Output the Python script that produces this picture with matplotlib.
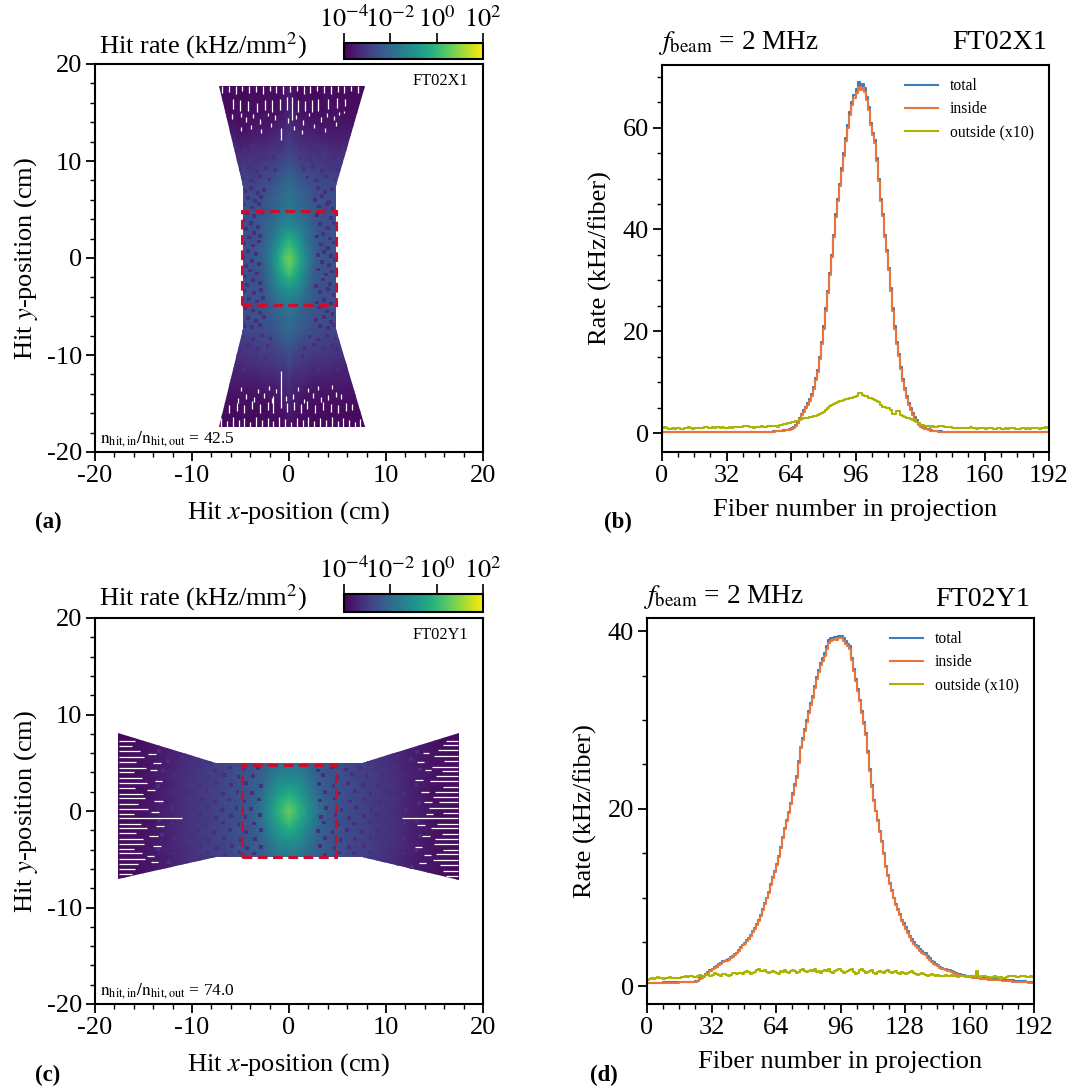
import matplotlib
matplotlib.use("Agg")
import matplotlib.pyplot as plt
import numpy as np
from matplotlib.colors import LogNorm
from matplotlib.patches import Polygon, Rectangle
from matplotlib.ticker import MultipleLocator

plt.rcParams['font.family'] = ['Liberation Serif', 'DejaVu Serif']
plt.rcParams['mathtext.fontset'] = 'stix'
plt.rcParams['axes.unicode_minus'] = False

W, H = 1082, 1090

fibre_edges = np.arange(0, 193)

# FT02X1 rates per fibre, 16 fibres per row
total_x = [.15,.15,.15,.15,.15,.15,.15,.15,.15,.15,.15,.15,.15,.15,.15,.15,
           .15,.15,.15,.15,.15,.15,.15,.15,.15,.15,.15,.15,.15,.15,.15,.15,
           .2,.2,.2,.2,.2,.2,.2,.2,.2,.2,.2,.2,.2,.2,.2,.2,
           .25,.25,.25,.25,.3,.3,.3,.35,.4,.4,.45,.5,.55,.6,.7,.8,
           1.0,1.3,1.6,2.2,3.0,3.8,4.5,5.2,6.0,6.8,7.7,9,10.8,12.5,15,18,
           21,24.5,28,31.5,35,39,43,46,49,52,55,58,60.5,63,65,66.5,
           67.5,69,68.2,68.6,67.8,66,64,61,59,57.5,54,50,46,43,39,36,
           32.5,28.5,24.5,21,18,15.5,13,10.7,8.8,7.3,5.9,4.9,4,3.2,2.5,2,
           1.6,1.3,1.1,.9,.8,.65,.5,.45,.4,.35,.35,.3,.3,.3,.25,.25,
           .25,.25,.25,.25,.25,.25,.25,.25,.25,.25,.25,.25,.25,.25,.25,.25,
           .2,.2,.2,.2,.2,.2,.2,.2,.2,.2,.2,.2,.2,.2,.2,.2,
           .2,.2,.2,.2,.2,.2,.2,.2,.2,.2,.2,.2,.2,.2,.2,.2]
inside_x = [.15,.15,.15,.15,.15,.15,.15,.15,.15,.15,.15,.15,.15,.15,.15,.15,
            .15,.15,.15,.15,.15,.15,.15,.15,.15,.15,.15,.15,.15,.15,.15,.15,
            .2,.2,.2,.2,.2,.2,.2,.2,.2,.2,.2,.2,.2,.2,.2,.2,
            .25,.25,.25,.25,.3,.3,.3,.3,.35,.35,.4,.45,.5,.55,.6,.7,
            .9,1.1,1.4,1.9,2.7,3.5,4.2,4.9,5.6,6.4,7.3,8.6,10.4,12,14.6,17.6,
            20.5,24,27.5,31,34.5,38.5,42.5,45.5,48.5,51.4,54.4,57.4,60,62.4,64.4,65.8,
            66.8,68,67.4,67.8,67,65.4,63.4,60.5,58.5,57,53.5,49.5,45.6,42.6,38.6,35.6,
            32,28,24,20.5,17.6,15.1,12.6,10.3,8.4,6.9,5.5,4.5,3.6,2.8,2.1,1.7,
            1.3,1.1,.9,.8,.6,.5,.4,.4,.35,.3,.3,.25,.25,.25,.25,.25,
            .25,.25,.25,.25,.25,.25,.2,.2,.2,.2,.2,.2,.2,.2,.2,.2,
            .2,.2,.2,.2,.2,.2,.2,.2,.2,.2,.2,.2,.2,.2,.2,.2,
            .2,.2,.2,.2,.2,.2,.2,.2,.2,.2,.2,.2,.2,.2,.2,.2]
outside_x = [1.0,1.2,1.0,.9,.9,1.1,.9,1.0,1.0,.9,.9,1.1,1.0,1.2,1.0,.9,
             1.0,1.0,1.1,1.0,1.1,1.2,1.3,1.1,1.1,1.2,1.1,1.3,1.2,1.1,1.2,1.0,
             1.1,1.2,1.1,1.2,1.2,1.3,1.3,1.2,1.4,1.5,1.4,1.3,1.2,1.1,1.2,1.3,
             1.3,1.4,1.3,1.3,1.4,1.5,1.4,1.5,1.4,1.3,1.6,1.7,1.8,1.8,1.9,2.0,
             2.1,2.2,2.3,2.4,2.6,2.8,2.9,3.0,3.0,3.1,3.2,3.3,3.4,3.6,3.8,4.0,
             4.2,4.6,5.0,5.4,5.6,5.7,5.9,6.1,6.4,6.4,6.6,6.8,6.8,6.9,7.0,7.1,
             7.2,7.9,7.9,7.5,7.3,7.2,7.0,6.9,6.7,6.5,6.4,6.1,5.6,5.2,5.1,5.0,
             4.9,4.6,3.8,3.7,4.3,4.4,3.5,3.3,3.1,3.0,2.9,2.7,2.5,2.3,2.1,1.9,
             1.7,1.6,1.5,1.4,1.4,1.3,1.4,1.3,1.3,1.4,1.5,1.4,1.3,1.3,1.2,1.2,
             1.1,1.1,1.1,1.0,1.1,1.0,1.1,1.0,1.1,1.2,1.0,1.0,.9,1.0,1.1,1.0,
             .9,1.0,1.1,1.0,.9,.9,1.0,1.1,.9,.9,1.0,.9,1.0,1.1,1.0,.9,
             .9,.9,1.0,1.0,.9,1.0,.9,1.1,1.0,1.0,1.1,.9,1.0,1.1,1.2,1.1]

# FT02Y1 rates per fibre
total_y = [.4,.4,.4,.4,.4,.4,.4,.4,.45,.45,.45,.45,.45,.45,.45,.45,
           .5,.5,.5,.5,.5,.5,.5,.5,.55,.6,.9,1.0,1.2,1.4,1.6,1.8,
           2,2.2,2.3,2.5,2.6,2.8,2.9,3,3.1,3.3,3.4,3.6,3.8,4.1,4.4,4.7,
           4.9,5.2,5.4,5.8,6.2,6.6,7,7.5,8,8.7,9.4,10,10.6,11.5,12.3,13,
           13.8,14.7,15.7,16.8,17.8,18.7,19.6,20.7,21.8,22.8,23.7,25.4,27,28,29,30,
           31,31.9,32.7,33.8,34.8,35.6,36.4,37,37.5,38.3,39,39.2,39.3,39.4,39.4,39.5,
           39.5,39.2,38.9,38.6,38.3,37,35.7,34.6,33.5,32.3,31,29.8,28.5,26.5,24.5,22.7,
           21,19.8,18.7,17.5,16.4,15,13.5,12.5,11.6,10.8,10,9.3,8.7,8.1,7.5,7.1,
           6.7,6.2,5.7,5.3,5,4.7,4.5,4.2,4,3.8,3.7,3.4,3.2,2.9,2.7,2.5,
           2.4,2.2,2.1,2,1.9,1.85,1.8,1.7,1.6,1.5,1.4,1.35,1.3,1.25,1.2,1.15,
           1.1,1.05,1,1,1,.95,.95,.9,.9,.85,.85,.8,.8,.8,.75,.75,
           .7,.7,.7,.7,.65,.65,.6,.6,.6,.6,.55,.55,.5,.5,.45,.45]
inside_y = [.35,.35,.35,.35,.35,.35,.35,.35,.4,.4,.4,.4,.4,.4,.4,.4,
            .45,.45,.45,.45,.45,.45,.45,.45,.5,.55,.8,.9,1.1,1.3,1.5,1.7,
            1.9,2.1,2.2,2.4,2.5,2.7,2.8,2.9,3,3.2,3.3,3.5,3.7,4,4.3,4.6,
            4.8,5.1,5.3,5.7,6.1,6.5,6.9,7.4,7.9,8.6,9.3,9.9,10.5,11.4,12.2,12.9,
            13.7,14.6,15.6,16.7,17.7,18.6,19.5,20.5,21.6,22.6,23.5,25.2,26.8,27.8,28.8,29.8,
            30.8,31.7,32.5,33.6,34.6,35.4,36.2,36.7,37.2,38,38.7,38.9,39,39.1,39,39.2,
            39.2,38.9,38.6,38.3,38,36.8,35.5,34.4,33.3,32.1,30.8,29.6,28.3,26.3,24.3,22.5,
            20.9,19.7,18.6,17.4,16.3,14.9,13.4,12.4,11.5,10.7,9.9,9.2,8.6,8,7.3,6.9,
            6.5,6,5.5,5.1,4.8,4.5,4.3,4,3.8,3.6,3.5,3.2,3,2.7,2.5,2.4,
            2.3,2.1,2,1.9,1.8,1.75,1.7,1.6,1.5,1.4,1.3,1.25,1.2,1.15,1.1,1.05,
            1,.95,.95,.9,.9,.85,.85,.8,.8,.75,.75,.7,.7,.65,.65,.65,
            .6,.6,.6,.55,.55,.5,.5,.5,.5,.45,.45,.45,.45,.4,.4,.4]
outside_y = [.7,.8,.9,.8,.9,1.0,.9,.9,.8,.9,.9,1.0,.9,.9,.9,.9,
             .9,1.0,1.0,1.1,1.0,1.2,1.1,1.0,1.0,1.1,1.3,1.2,1.0,1.3,1.4,1.2,
             1.3,1.5,1.4,1.3,1.2,1.4,1.4,1.3,1.2,1.3,1.5,1.5,1.4,1.5,1.5,1.4,
             1.6,1.7,1.6,1.4,1.5,1.6,1.8,1.9,1.7,1.7,1.8,1.6,1.5,1.6,1.7,1.6,
             1.5,1.4,1.7,1.6,1.8,1.6,1.5,1.7,1.8,1.7,1.5,1.6,1.8,1.9,1.7,1.6,
             1.7,1.8,1.7,1.9,1.6,1.7,1.5,1.7,1.8,1.7,1.9,1.6,1.5,1.7,1.8,2.0,
             1.7,1.5,1.6,1.7,1.8,1.9,1.6,1.4,1.5,1.8,1.9,1.7,1.5,1.6,1.7,1.8,
             1.5,1.4,1.6,1.7,1.6,1.5,1.7,1.8,1.6,1.5,1.6,1.7,1.5,1.4,1.6,1.5,
             1.4,1.5,1.6,1.7,1.5,1.4,1.3,1.4,1.5,1.4,1.3,1.2,1.3,1.4,1.3,1.2,
             1.3,1.2,1.1,1.2,1.3,1.2,1.1,1.3,1.2,1.1,1.0,1.2,1.1,1.1,1.0,1.1,
             1.0,1.1,1.2,1.7,1.1,1.0,1.2,1.1,1.0,1.0,.9,1.0,1.1,1.0,.9,1.0,
             .9,.9,1.0,1.1,1.2,1.2,1.1,1.0,1.0,1.1,1.2,1.1,1.0,1.0,1.1,1.0]

map_x_x = [-8,-6,-4.8,-3.6,-2.6,-1.8,-1.1,-.5,0,.5,1.1,1.8,2.6,3.6,4.8,6,8]
map_x_y = [17.8,15,13,11,9,7.5,6,5,4,3,2,1,0,-1,-2,-3,-4,-5,-6,-7.5,-9,-11,-13,-15,-17.6]
map_x = [
    [-3.9,-3.8,-3.9,-3.8,-3.9,-3.8,-3.9,-3.7,-3.6,-3.8,-3.9,-3.8,-3.9,-3.8,-3.9,-3.8,-3.9],
    [-3.8,-3.8,-3.8,-3.8,-3.7,-3.8,-3.7,-3.6,-3.4,-3.6,-3.7,-3.7,-3.8,-3.8,-3.7,-3.8,-3.8],
    [-3.7,-3.6,-3.7,-3.6,-3.6,-3.5,-3.4,-3.3,-3.1,-3.3,-3.4,-3.5,-3.5,-3.6,-3.6,-3.6,-3.7],
    [-3.4,-3.4,-3.3,-3.2,-3.2,-3.1,-3.0,-2.9,-2.8,-2.9,-3.0,-3.1,-3.2,-3.1,-3.3,-3.2,-3.4],
    [-3.1,-3.0,-2.9,-3.0,-2.8,-2.8,-2.6,-2.4,-2.3,-2.4,-2.6,-2.8,-2.8,-2.9,-3.0,-3.0,-3.1],
    [-2.8,-2.8,-2.7,-2.8,-2.6,-2.5,-2.2,-2.0,-1.9,-2.0,-2.2,-2.4,-2.6,-2.7,-2.6,-2.8,-2.8],
    [-2.7,-2.7,-2.5,-2.6,-2.4,-2.2,-2.0,-1.8,-1.7,-1.8,-2.0,-2.2,-2.5,-2.5,-2.6,-2.7,-2.7],
    [-2.6,-2.6,-2.5,-2.4,-2.5,-2.3,-2.0,-1.7,-1.6,-1.7,-2.0,-2.1,-2.3,-2.6,-2.5,-2.6,-2.6],
    [-2.6,-2.6,-2.6,-2.4,-2.3,-2.0,-1.7,-1.5,-1.4,-1.5,-1.7,-2.0,-2.4,-2.5,-2.4,-2.6,-2.6],
    [-2.5,-2.5,-2.5,-2.6,-2.2,-1.9,-1.4,-1.1,-1.0,-1.1,-1.4,-1.8,-2.3,-2.6,-2.5,-2.5,-2.5],
    [-2.6,-2.6,-2.4,-2.6,-2.2,-1.7,-1.1,-.6,-.3,-.6,-1.0,-1.7,-2.2,-2.5,-2.5,-2.6,-2.6],
    [-2.5,-2.5,-2.5,-2.4,-2.1,-1.5,-.8,-.1,.2,-.1,-.7,-1.5,-2.1,-2.6,-2.4,-2.5,-2.5],
    [-2.6,-2.6,-2.6,-2.4,-2.1,-1.3,-.4,.3,.7,.3,-.4,-1.3,-2.1,-2.4,-2.6,-2.6,-2.6],
    [-2.5,-2.5,-2.4,-2.5,-2.2,-1.4,-.6,.1,.5,.1,-.6,-1.4,-2.2,-2.5,-2.4,-2.5,-2.5],
    [-2.6,-2.6,-2.5,-2.6,-2.3,-1.6,-.9,-.4,-.1,-.4,-.9,-1.6,-2.3,-2.4,-2.5,-2.6,-2.6],
    [-2.6,-2.6,-2.4,-2.5,-2.4,-1.8,-1.2,-.9,-.7,-.9,-1.2,-1.8,-2.4,-2.6,-2.5,-2.6,-2.6],
    [-2.6,-2.6,-2.6,-2.4,-2.4,-2.0,-1.6,-1.4,-1.3,-1.4,-1.6,-2.0,-2.3,-2.5,-2.5,-2.6,-2.6],
    [-2.6,-2.6,-2.5,-2.6,-2.4,-2.3,-1.9,-1.7,-1.6,-1.7,-1.9,-2.3,-2.4,-2.6,-2.4,-2.6,-2.6],
    [-2.7,-2.7,-2.6,-2.5,-2.4,-2.3,-2.1,-1.9,-1.8,-1.9,-2.1,-2.3,-2.5,-2.5,-2.6,-2.7,-2.7],
    [-2.8,-2.8,-2.7,-2.7,-2.6,-2.5,-2.3,-2.1,-2.0,-2.1,-2.3,-2.5,-2.6,-2.7,-2.7,-2.8,-2.8],
    [-3.1,-3.0,-3.0,-2.9,-2.8,-2.8,-2.6,-2.5,-2.3,-2.5,-2.7,-2.8,-2.8,-2.9,-3.0,-3.0,-3.1],
    [-3.4,-3.4,-3.3,-3.2,-3.1,-3.1,-3.0,-3.0,-2.8,-3.0,-3.0,-3.1,-3.2,-3.2,-3.3,-3.4,-3.4],
    [-3.7,-3.6,-3.6,-3.6,-3.5,-3.5,-3.4,-3.4,-3.2,-3.4,-3.4,-3.5,-3.6,-3.6,-3.6,-3.6,-3.7],
    [-3.8,-3.8,-3.8,-3.8,-3.8,-3.8,-3.7,-3.6,-3.5,-3.6,-3.7,-3.8,-3.8,-3.8,-3.8,-3.8,-3.8],
    [-3.9,-3.9,-3.8,-3.9,-3.9,-3.8,-3.9,-3.8,-3.7,-3.8,-3.9,-3.8,-3.9,-3.9,-3.8,-3.9,-3.9],
]
outline_x = [(-7.2,17.7),(7.8,17.7),(4.85,7.4),(4.85,-7.3),(7.8,-17.4),(-7.2,-17.4),(-4.7,-7.3),(-4.7,7.4)]

map_y_x = [-18,-15,-12.5,-10.5,-8.5,-7,-5.5,-4,-3,-2,-1,0,1,2,3,4,5.5,7,8.5,10.5,12.5,15,18]
map_y_y = [8.2,6,4.8,3.8,2.8,1.8,.9,0,-.9,-1.8,-2.8,-3.8,-4.8,-6,-7.4]
map_y = [
    [-3.9,-3.8,-3.6,-3.4,-3.3,-3.1,-3.0,-2.9,-2.8,-2.7,-2.6,-2.5,-2.6,-2.7,-2.8,-2.9,-3.0,-3.1,-3.3,-3.4,-3.6,-3.8,-3.9],
    [-3.9,-3.7,-3.5,-3.3,-3.1,-2.9,-2.8,-2.5,-2.4,-2.2,-1.9,-1.8,-1.9,-2.2,-2.4,-2.5,-2.8,-2.9,-3.1,-3.3,-3.5,-3.7,-3.9],
    [-3.8,-3.7,-3.5,-3.2,-3.0,-2.8,-2.6,-2.5,-2.3,-2.0,-1.7,-1.6,-1.7,-2.0,-2.3,-2.4,-2.6,-2.8,-3.0,-3.2,-3.5,-3.7,-3.8],
    [-3.9,-3.7,-3.4,-3.2,-2.9,-2.9,-2.5,-2.4,-2.2,-1.8,-1.4,-1.3,-1.4,-1.8,-2.2,-2.5,-2.5,-2.9,-2.9,-3.2,-3.4,-3.7,-3.9],
    [-3.8,-3.7,-3.5,-3.1,-3.0,-2.7,-2.6,-2.3,-2.1,-1.6,-1.0,-.9,-1.0,-1.6,-2.1,-2.3,-2.6,-2.7,-3.0,-3.1,-3.5,-3.7,-3.8],
    [-3.9,-3.8,-3.4,-3.2,-2.9,-2.8,-2.5,-2.4,-2.0,-1.3,-.7,-.3,-.7,-1.3,-2.0,-2.4,-2.5,-2.8,-2.9,-3.2,-3.4,-3.8,-3.9],
    [-3.8,-3.7,-3.5,-3.1,-3.0,-2.7,-2.6,-2.3,-1.8,-1.1,-.3,.2,-.3,-1.1,-1.8,-2.3,-2.6,-2.7,-3.0,-3.1,-3.5,-3.7,-3.8],
    [-3.9,-3.7,-3.4,-3.2,-2.9,-2.8,-2.5,-2.3,-1.8,-1.0,-.1,.6,-.1,-1.0,-1.8,-2.3,-2.5,-2.8,-2.9,-3.2,-3.4,-3.7,-3.9],
    [-3.8,-3.8,-3.5,-3.1,-3.0,-2.7,-2.6,-2.3,-1.9,-1.1,-.3,.3,-.3,-1.1,-1.9,-2.4,-2.6,-2.7,-3.0,-3.1,-3.5,-3.8,-3.8],
    [-3.9,-3.7,-3.4,-3.2,-2.9,-2.8,-2.5,-2.4,-2.0,-1.3,-.7,-.2,-.7,-1.3,-2.0,-2.3,-2.5,-2.8,-2.9,-3.2,-3.4,-3.7,-3.9],
    [-3.8,-3.7,-3.5,-3.1,-3.0,-2.7,-2.6,-2.4,-2.1,-1.6,-1.0,-.8,-1.0,-1.6,-2.1,-2.4,-2.6,-2.7,-3.0,-3.1,-3.5,-3.7,-3.8],
    [-3.9,-3.7,-3.4,-3.2,-2.9,-2.9,-2.5,-2.3,-2.2,-1.8,-1.4,-1.3,-1.4,-1.8,-2.2,-2.4,-2.5,-2.9,-2.9,-3.2,-3.4,-3.7,-3.9],
    [-3.8,-3.7,-3.5,-3.2,-3.0,-2.8,-2.6,-2.5,-2.3,-2.0,-1.7,-1.6,-1.7,-2.0,-2.3,-2.4,-2.6,-2.8,-3.0,-3.2,-3.5,-3.7,-3.8],
    [-3.9,-3.7,-3.5,-3.3,-3.1,-2.9,-2.8,-2.5,-2.4,-2.2,-1.9,-1.8,-1.9,-2.2,-2.4,-2.5,-2.8,-2.9,-3.1,-3.3,-3.5,-3.7,-3.9],
    [-3.9,-3.8,-3.6,-3.4,-3.3,-3.1,-3.0,-2.9,-2.8,-2.7,-2.6,-2.5,-2.6,-2.7,-2.8,-2.9,-3.0,-3.1,-3.3,-3.4,-3.6,-3.8,-3.9],
]
outline_y = [(-17.6,8.1),(-7.5,4.95),(7.5,4.95),(17.5,8.1),(17.5,-7.2),(7.5,-4.75),(-7.5,-4.75),(-17.6,-7.0)]

# darker low-rate cells in the speckled part of the maps
specks_x = [(-4.5,6.9),(-3.9,7.2),(-3.2,6.7),(-2.6,7.0),(3.0,7.2),(3.7,6.8),(4.4,7.1),(-4.2,6.2),(-3.5,5.9),(-2.9,6.3),(2.7,6.0),(3.4,6.4),(4.1,5.8),
            (-4.6,5.5),(-3.8,5.2),(-3.1,5.6),(3.1,5.3),(3.9,5.6),(4.5,5.1),(-4.3,4.6),(-3.6,4.3),(-2.8,4.7),(-4.7,3.9),(2.9,4.4),(3.6,4.8),(4.3,4.1),
            (-3.9,3.6),(-3.2,3.2),(-4.4,3.0),(3.2,3.5),(4.0,3.1),(4.6,3.6),(-3.6,2.6),(-4.1,2.1),(-3.0,2.3),(3.5,2.5),(4.2,2.0),(2.9,2.2),
            (-4.6,1.5),(-3.7,1.3),(-3.1,1.7),(3.3,1.4),(4.0,1.0),(4.6,1.6),(-4.2,.7),(-3.4,.4),(-4.7,.1),(3.6,.6),(4.3,.2),(3.0,.3),
            (-3.8,-.3),(-3.1,-.6),(-4.4,-.8),(3.4,-.4),(4.1,-.7),(4.7,-.2),(-4.0,-1.3),(-3.3,-1.6),(-4.6,-1.9),(3.0,-1.2),(3.8,-1.7),(4.4,-1.4),
            (-3.7,-2.3),(-3.0,-2.6),(-4.3,-2.8),(3.5,-2.2),(4.2,-2.7),(2.8,-2.9),(-4.6,-3.4),(-3.6,-3.6),(-2.9,-3.3),(3.2,-3.5),(4.0,-3.2),(4.6,-3.8),
            (-4.1,-4.2),(-3.3,-4.5),(-2.7,-4.1),(3.6,-4.3),(4.3,-4.7),(2.9,-4.6),(-4.5,-5.2),(-3.7,-5.4),(-3.0,-5.7),(3.1,-5.1),(3.9,-5.5),(4.5,-5.8),
            (-4.2,-6.2),(-3.4,-6.5),(-2.6,-6.1),(2.8,-6.4),(3.6,-6.1),(4.3,-6.6),(-4.6,-7.0),(-3.8,-7.1),(-3.0,-6.9),(3.2,-7.0),(4.0,-7.2),(4.6,-6.9),
            (-4.8,8.2),(-3.9,8.0),(-3.0,8.4),(-2.0,8.1),(1.9,8.3),(2.8,8.0),(3.8,8.4),(4.7,8.1),(-5.0,9.2),(-4.1,9.4),(-3.3,9.0),(-2.4,9.3),(-1.4,9.1),
            (1.5,9.2),(2.5,9.4),(3.4,9.0),(4.3,9.3),(5.0,9.1),(-5.3,10.3),(-4.4,10.1),(-3.5,10.5),(-2.6,10.2),(-1.6,10.4),(1.2,10.3),(2.2,10.1),(3.1,10.5),
            (4.0,10.2),(5.0,10.4),(-5.5,11.4),(-4.6,11.2),(-3.7,11.6),(-2.8,11.3),(-1.8,11.5),(-.9,11.2),(1.0,11.4),(1.9,11.2),(2.9,11.6),(3.8,11.3),(4.8,11.5),(5.5,11.2),
            (-4.7,-8.1),(-3.7,-8.4),(-2.8,-8.0),(-1.9,-8.3),(2.1,-8.1),(3.0,-8.4),(3.9,-8.0),(4.8,-8.3),(-5.1,-9.3),(-4.2,-9.0),(-3.2,-9.4),(-2.2,-9.1),
            (1.6,-9.3),(2.6,-9.0),(3.5,-9.4),(4.4,-9.1),(5.0,-9.3),(-5.4,-10.2),(-4.5,-10.5),(-3.4,-10.2),(-2.5,-10.4),(1.4,-10.2),(2.4,-10.5),(3.3,-10.2),
            (4.2,-10.4),(5.2,-10.1),(-5.6,-11.3),(-4.7,-11.5),(-3.8,-11.2),(-2.7,-11.6),(-1.6,-11.3),(1.2,-11.5),(2.2,-11.2),(3.1,-11.6),(4.0,-11.3),(5.0,-11.5)]
specks_y = [(-11,4.4),(-9.2,4.5),(-7.6,4.2),(-6.1,4.5),(-4.7,4.3),(-3.2,4.4),(3.0,4.2),(4.4,4.5),(5.9,4.3),(7.3,4.5),(9.0,4.4),(10.8,4.6),
            (-11.8,3.6),(-10,3.8),(-8.3,3.5),(-6.7,3.7),(-5.2,3.5),(-3.7,3.6),(3.5,3.7),(5.0,3.5),(6.5,3.8),(8.0,3.6),(9.6,3.7),(11.4,3.5),
            (-11,2.8),(-9.3,2.6),(-7.5,2.9),(-6.0,2.7),(-4.4,2.9),(-2.9,2.6),(3.1,2.8),(4.6,2.6),(6.1,2.9),(7.6,2.7),(9.2,2.6),(11,2.9),
            (-11.9,2.0),(-10.2,1.9),(-8.5,2.1),(-6.8,1.8),(-5.3,2.0),(-3.8,1.9),(3.7,2.0),(5.2,1.8),(6.8,2.1),(8.4,1.9),(10,2.0),(11.8,1.8),
            (-11,1.1),(-9.0,1.3),(-7.6,1.0),(-6.2,1.2),(-4.6,1.0),(-3.1,1.2),(3.2,1.1),(4.7,1.3),(6.3,1.0),(7.8,1.2),(9.4,1.0),(11.2,1.3),
            (-12,.3),(-10.1,.2),(-8.4,.4),(-6.9,.1),(-5.4,.3),(-3.9,.2),(3.8,.3),(5.4,.1),(6.9,.4),(8.5,.2),(10.2,.3),(12,.1),
            (-11,-.5),(-9.2,-.4),(-7.5,-.7),(-6.0,-.5),(-4.5,-.6),(-3.0,-.4),(3.3,-.6),(4.8,-.4),(6.2,-.7),(7.7,-.5),(9.1,-.4),(11,-.6),
            (-12,-1.3),(-10.3,-1.2),(-8.6,-1.4),(-6.8,-1.2),(-5.2,-1.4),(-3.6,-1.3),(3.6,-1.2),(5.1,-1.4),(6.7,-1.3),(8.3,-1.2),(10,-1.4),(11.9,-1.3),
            (-11.1,-2.1),(-9.4,-2.0),(-7.7,-2.2),(-6.1,-2.0),(-4.4,-2.2),(-2.9,-2.0),(3.0,-2.1),(4.5,-2.2),(6.0,-2.0),(7.5,-2.2),(9.2,-2.1),(11,-2.0),
            (-11.8,-2.9),(-10,-2.8),(-8.3,-3.0),(-6.7,-2.8),(-5.0,-3.0),(-3.5,-2.9),(3.7,-2.8),(5.3,-3.0),(6.8,-2.9),(8.4,-2.8),(10.1,-3.0),(11.8,-2.9),
            (-11,-3.7),(-9.1,-3.6),(-7.4,-3.8),(-5.9,-3.6),(-4.3,-3.8),(-2.9,-3.7),(3.2,-3.6),(4.7,-3.8),(6.2,-3.7),(7.7,-3.6),(9.4,-3.8),(11.2,-3.7),
            (-11.9,-4.4),(-10.1,-4.5),(-8.4,-4.3),(-6.6,-4.5),(-5.1,-4.3),(-3.6,-4.4),(3.7,-4.5),(5.2,-4.3),(6.7,-4.4),(8.3,-4.3),(10,-4.5),(11.9,-4.4),
            (-12.5,5.2),(-11,5.6),(-9.5,5.1),(-8.1,4.9),(8.2,5.0),(9.6,5.2),(11.1,5.6),(12.6,5.4),(-12.4,-5.3),(-10.9,-5.6),(-9.4,-5.1),(-8.0,-4.9),(8.1,-5.0),(9.7,-5.2),(11.2,-5.5),(12.7,-5.8),
            (-13.4,6.2),(-13.0,4.2),(-13.5,2.6),(-13.2,.9),(-13.4,-1.0),(-13.1,-2.5),(-13.5,-4.0),(13.2,6.1),(13.5,4.3),(13.1,2.7),(13.4,.8),(13.2,-1.1),(13.5,-2.6),(13.1,-4.1)]
speck_level = -3.2

# white gaps between fibres in the outer part of the acceptance
gap_x_pos = [-6.9,-6.2,-5.5,-4.8,-4.1,-3.4,-2.7,-2.0,-1.3,-.6,.1,.8,1.5,2.2,2.9,3.6,4.3,5.0,5.7,6.4,7.1,
             -5.74,-5.05,-4.19,-3.33,-2.47,-1.72,-.93,-.24,.28,.96,1.65,2.34,3.02,4.05,4.91,5.77,
             -5.9,-5.0,-4.4,-3.7,-3.0,-2.2,-1.4,-.85,-.1,.7,1.4,2.1,3.3,3.9,4.6,5.2,5.7,-4.9,-3.9,-2.9,-1.9,.5,1.3,2.6,3.7,4.8,
             -7.0,-6.4,-5.8,-5.2,-4.6,-4.0,-3.4,-2.8,-2.2,-1.6,-1.0,-.4,.2,.8,1.4,2.0,2.6,3.2,3.8,4.4,5.0,5.6,6.2,6.8,7.3,
             -6.2,-5.4,-4.6,-3.8,-3.0,-2.2,-1.6,-.86,-.2,.5,1.2,1.9,2.7,3.5,4.3,5.1,5.9,6.5,
             -5.3,-4.4,-3.6,-2.6,-1.8,-.3,.4,1.5,2.5,3.3,4.0,4.8,5.4,-4.9,-3.2,-2.1,-1.3,.9,2.0,3.0,4.4]
gap_x_lo = [17.0,17.1,16.9,17.2,17.0,17.1,16.9,17.2,17.0,16.9,17.1,17.2,16.9,17.0,17.2,17.0,16.9,17.1,17.0,17.2,17.0,
            15.4,15.2,15.2,15.0,15.3,15.1,15.3,15.3,14.2,15.0,15.2,15.0,15.2,15.4,15.5,15.7,
            14.3,14.5,14.0,14.4,13.8,14.6,14.2,12.2,13.9,14.3,13.7,14.6,14.0,14.5,14.2,14.7,14.9,13.1,13.3,12.9,13.5,13.2,12.8,13.4,13.0,13.6,
            -17.4,-17.4,-17.4,-17.4,-17.4,-17.4,-17.4,-17.4,-17.4,-17.4,-17.4,-17.4,-17.4,-17.4,-17.4,-17.4,-17.4,-17.4,-17.4,-17.4,-17.4,-17.4,-17.4,-17.4,-17.4,
            -16.0,-15.8,-16.0,-15.6,-16.0,-15.7,-16.0,-15.5,-15.9,-15.7,-16.0,-15.6,-16.0,-15.7,-15.9,-16.0,-15.8,-15.7,
            -14.9,-14.5,-14.8,-14.4,-14.9,-14.7,-14.5,-14.9,-14.4,-14.8,-14.6,-14.3,-14.5,-13.7,-13.9,-13.6,-13.9,-13.7,-13.8,-13.6,-13.5]
gap_x_hi = [17.7,17.7,17.7,17.7,17.7,17.7,17.7,17.7,17.7,17.7,17.7,17.7,17.7,17.7,17.7,17.7,17.7,17.7,17.7,17.7,17.7,
            16.4,16.3,16.2,16.0,16.3,16.3,16.4,16.6,16.6,16.3,16.2,16.3,16.4,16.4,16.5,16.4,
            14.8,14.9,14.5,14.8,14.3,14.9,14.7,13.4,14.4,14.7,14.2,14.9,14.5,14.9,14.6,15.0,15.2,13.5,13.7,13.3,13.9,13.6,13.2,13.8,13.4,14.0,
            -16.5,-16.8,-16.4,-16.7,-16.5,-16.9,-16.4,-16.7,-16.5,-16.8,-16.4,-16.6,-16.9,-16.5,-16.7,-16.4,-16.8,-16.5,-16.7,-16.4,-16.8,-16.5,-16.7,-16.9,-16.6,
            -15.2,-14.9,-15.2,-14.7,-15.1,-14.8,-14.2,-11.6,-14.9,-14.8,-15.1,-14.7,-15.2,-14.8,-15.0,-15.2,-14.9,-15.0,
            -14.4,-14.0,-14.3,-13.9,-14.4,-14.2,-14.0,-14.5,-13.9,-14.3,-14.1,-13.8,-14.0,-13.3,-13.5,-13.2,-13.5,-13.3,-13.4,-13.2,-13.1]

gap_y_pos = [7.3,6.7,6.2,5.6,5.1,4.5,4.0,3.4,2.9,2.4,1.8,1.3,.7,.2,-.3,-.76,-1.3,-1.8,-2.3,-2.9,-3.4,-3.9,-4.4,-5.0,-5.5,-6.0,-6.5,
             5.9,5.0,4.2,3.1,2.2,1.0,-.1,-1.6,-2.6,-3.6,-4.7,-5.3,
             7.3,6.8,6.3,5.7,5.2,4.6,4.1,3.6,3.1,2.5,2.0,1.4,.9,.3,-.2,-.76,-1.3,-1.8,-2.4,-2.9,-3.4,-4.0,-4.5,-5.1,-5.6,-6.2,-6.7,
             6.0,5.1,4.3,3.2,2.0,.9,-.3,-1.5,-2.6,-3.7,-4.6,-5.4]
gap_y_lo = [-17.5,-17.5,-17.5,-17.5,-17.5,-17.5,-17.5,-17.5,-17.5,-17.5,-17.5,-17.5,-17.5,-17.5,-17.5,-17.5,-17.5,-17.5,-17.5,-17.5,-17.5,-17.5,-17.5,-17.5,-17.5,-17.5,-17.5,
            -14.5,-14.0,-14.3,-13.8,-14.6,-13.9,-14.2,-13.7,-14.4,-14.0,-14.6,-14.2,
            16.2,15.9,15.4,14.9,16.0,14.7,15.8,15.2,14.5,15.9,15.1,14.8,15.5,14.4,15.9,11.7,15.3,14.6,15.8,15.0,14.9,15.9,15.2,14.8,15.6,15.9,16.2,
            13.8,13.2,14.0,13.0,13.6,13.9,14.1,13.2,13.7,13.0,13.9,13.4]
gap_y_hi = [-15.9,-16.2,-15.4,-14.9,-15.8,-14.7,-16.0,-15.2,-14.6,-15.9,-15.1,-14.8,-15.6,-14.5,-16.0,-11.0,-15.3,-14.6,-15.8,-15.0,-14.9,-16.0,-15.2,-14.8,-15.6,-15.9,-16.2,
            -13.7,-13.2,-13.6,-13.1,-13.8,-13.0,-13.4,-12.9,-13.5,-13.2,-13.9,-13.5,
            17.4,17.4,17.4,17.4,17.4,17.4,17.4,17.4,17.4,17.4,17.4,17.4,17.4,17.4,17.4,17.4,17.4,17.4,17.4,17.4,17.4,17.4,17.4,17.4,17.4,17.4,17.4,
            14.4,13.9,14.6,13.8,14.4,14.7,14.8,14.0,14.5,13.7,14.6,14.1]

cbar_ticks = [1e-4, 1e-2, 1e0, 1e2]
cbar_labels = ['$10^{-4}$', '$10^{-2}$', '$10^{0}$', '$10^{2}$']
region = 4.8
C_TOTAL, C_INSIDE, C_OUTSIDE = '#3b7dbf', '#e8763a', '#aab400'
norm = LogNorm(1e-4, 1e2)
FS = 19


def box(left, top, right, bottom):
    return [left / W, 1 - bottom / H, (right - left) / W, (bottom - top) / H]


def style_axes(ax):
    ax.tick_params(which='major', direction='out', length=6.5, width=1.3, labelsize=FS, pad=3)
    ax.tick_params(which='minor', direction='out', length=3.3, width=1.0)
    for s in ax.spines.values():
        s.set_linewidth(1.5)


def hit_map(fig, rect, cbar_rect, grid_x, grid_y, values, outline, specks, name, ratio, gaps, title_y):
    ax = fig.add_axes(box(*rect))
    rate = 10.0 ** np.array(values)
    mesh = ax.pcolormesh(grid_x, grid_y, rate, norm=norm, cmap='viridis', shading='gouraud')
    mesh.set_clip_path(Polygon(outline, closed=True, transform=ax.transData))
    sx, sy = zip(*specks)
    dots = ax.scatter(sx, sy, c=np.full(len(sx), 10.0 ** speck_level), norm=norm, cmap='viridis',
                      marker='s', s=7, linewidths=0)
    dots.set_clip_path(Polygon(outline, closed=True, transform=ax.transData))
    if gaps[0] == 'v':
        ax.vlines(gaps[1], gaps[2], gaps[3], color='white', lw=0.9)
    else:
        ax.hlines(gaps[1], gaps[2], gaps[3], color='white', lw=0.9)
    ax.add_patch(Rectangle((-region, -region), 2 * region, 2 * region, fill=False,
                           ec='#c8102e', lw=2.2, ls=(0, (3.2, 1.8))))
    ax.set_xlim(-20, 20)
    ax.set_ylim(-20, 20)
    ax.xaxis.set_major_locator(MultipleLocator(10))
    ax.yaxis.set_major_locator(MultipleLocator(10))
    ax.xaxis.set_minor_locator(MultipleLocator(2))
    ax.yaxis.set_minor_locator(MultipleLocator(2))
    ax.set_xlabel('Hit $x$-position (cm)', fontsize=FS)
    ax.set_ylabel('Hit $y$-position (cm)', fontsize=FS)
    ax.xaxis.set_label_coords(0.5, -0.122)
    ax.yaxis.set_label_coords(-0.143, 0.5)
    style_axes(ax)
    ax.text(0.961, 0.977, name, transform=ax.transAxes, ha='right', va='top', fontsize=11.8)
    ax.text(0.012, 0.009, r'$\mathrm{n_{hit,in}/n_{hit,out}}$ = ' + ratio, transform=ax.transAxes,
            ha='left', va='bottom', fontsize=12.5)

    cax = fig.add_axes(box(*cbar_rect))
    cb = fig.colorbar(mesh, cax=cax, orientation='horizontal')
    cax.xaxis.set_ticks_position('top')
    cb.set_ticks(cbar_ticks)
    cb.set_ticklabels(cbar_labels)
    cax.minorticks_off()
    cax.tick_params(axis='x', length=7, width=1.2, labelsize=FS, pad=1)
    for s in cax.spines.values():
        s.set_linewidth(1.5)
    fig.text(99 / W, 1 - title_y / H, 'Hit rate (kHz/mm$^2$)', fontsize=FS, ha='left', va='baseline')
    return ax


def profile(fig, rect, total, inside, outside, ylim, name, name_x, beam_y, name_y):
    ax = fig.add_axes(box(*rect))
    ax.step(fibre_edges, np.append(total, total[-1]), where='post', color=C_TOTAL, lw=1.5, label='total')
    ax.step(fibre_edges, np.append(inside, inside[-1]), where='post', color=C_INSIDE, lw=1.5, label='inside')
    ax.step(fibre_edges, np.append(outside, outside[-1]), where='post', color=C_OUTSIDE, lw=1.5, label='outside (x10)')
    ax.set_xlim(0, 192)
    ax.set_ylim(*ylim)
    ax.xaxis.set_major_locator(MultipleLocator(32))
    ax.xaxis.set_minor_locator(MultipleLocator(8))
    ax.yaxis.set_major_locator(MultipleLocator(20))
    ax.yaxis.set_minor_locator(MultipleLocator(5))
    ax.set_xlabel('Fiber number in projection', fontsize=FS)
    ax.set_ylabel('Rate (kHz/fiber)', fontsize=FS)
    ax.xaxis.set_label_coords(0.5, -0.122)
    ax.yaxis.set_label_coords(-0.129, 0.5)
    style_axes(ax)
    ax.legend(loc='upper left', bbox_to_anchor=(0.628, 0.966), frameon=False, fontsize=11.3,
              handlelength=2.1, labelspacing=0.45, handletextpad=0.76, borderpad=0, borderaxespad=0)
    ax.text(-0.01, beam_y, r'$f_{\mathrm{beam}}$ = 2 MHz', transform=ax.transAxes, ha='left', va='baseline', fontsize=19.6)
    ax.text(name_x, name_y, name, transform=ax.transAxes, ha='right', va='baseline', fontsize=20.2)
    return ax


fig = plt.figure(figsize=(W / 100, H / 100), dpi=100)

hit_map(fig, (95, 64, 483, 452), (344, 43, 483, 59), map_x_x, map_x_y, map_x, outline_x, specks_x, 'FT02X1', '42.5',
        ('v', gap_x_pos, gap_x_lo, gap_x_hi), 53)
hit_map(fig, (95, 618, 483, 1004), (344, 594, 483, 612), map_y_x, map_y_y, map_y, outline_y, specks_y, 'FT02Y1', '74.0',
        ('h', gap_y_pos, gap_y_lo, gap_y_hi), 605)
profile(fig, (662, 65, 1049, 452), total_x, inside_x, outside_x, (-3.7, 72.3), 'FT02X1', 0.995, 1.041, 1.041)
profile(fig, (647, 618, 1034, 1004), total_y, inside_y, outside_y, (-2.0, 41.5), 'FT02Y1', 0.99, 1.039, 1.031)

fig.text(35 / W, 1 - 528 / H, '(a)', fontsize=16.5, fontweight='bold')
fig.text(604 / W, 1 - 528 / H, '(b)', fontsize=16.5, fontweight='bold')
fig.text(35 / W, 1 - 1081 / H, '(c)', fontsize=16.5, fontweight='bold')
fig.text(590 / W, 1 - 1081 / H, '(d)', fontsize=16.5, fontweight='bold')

fig.savefig('out.png', dpi=100)
